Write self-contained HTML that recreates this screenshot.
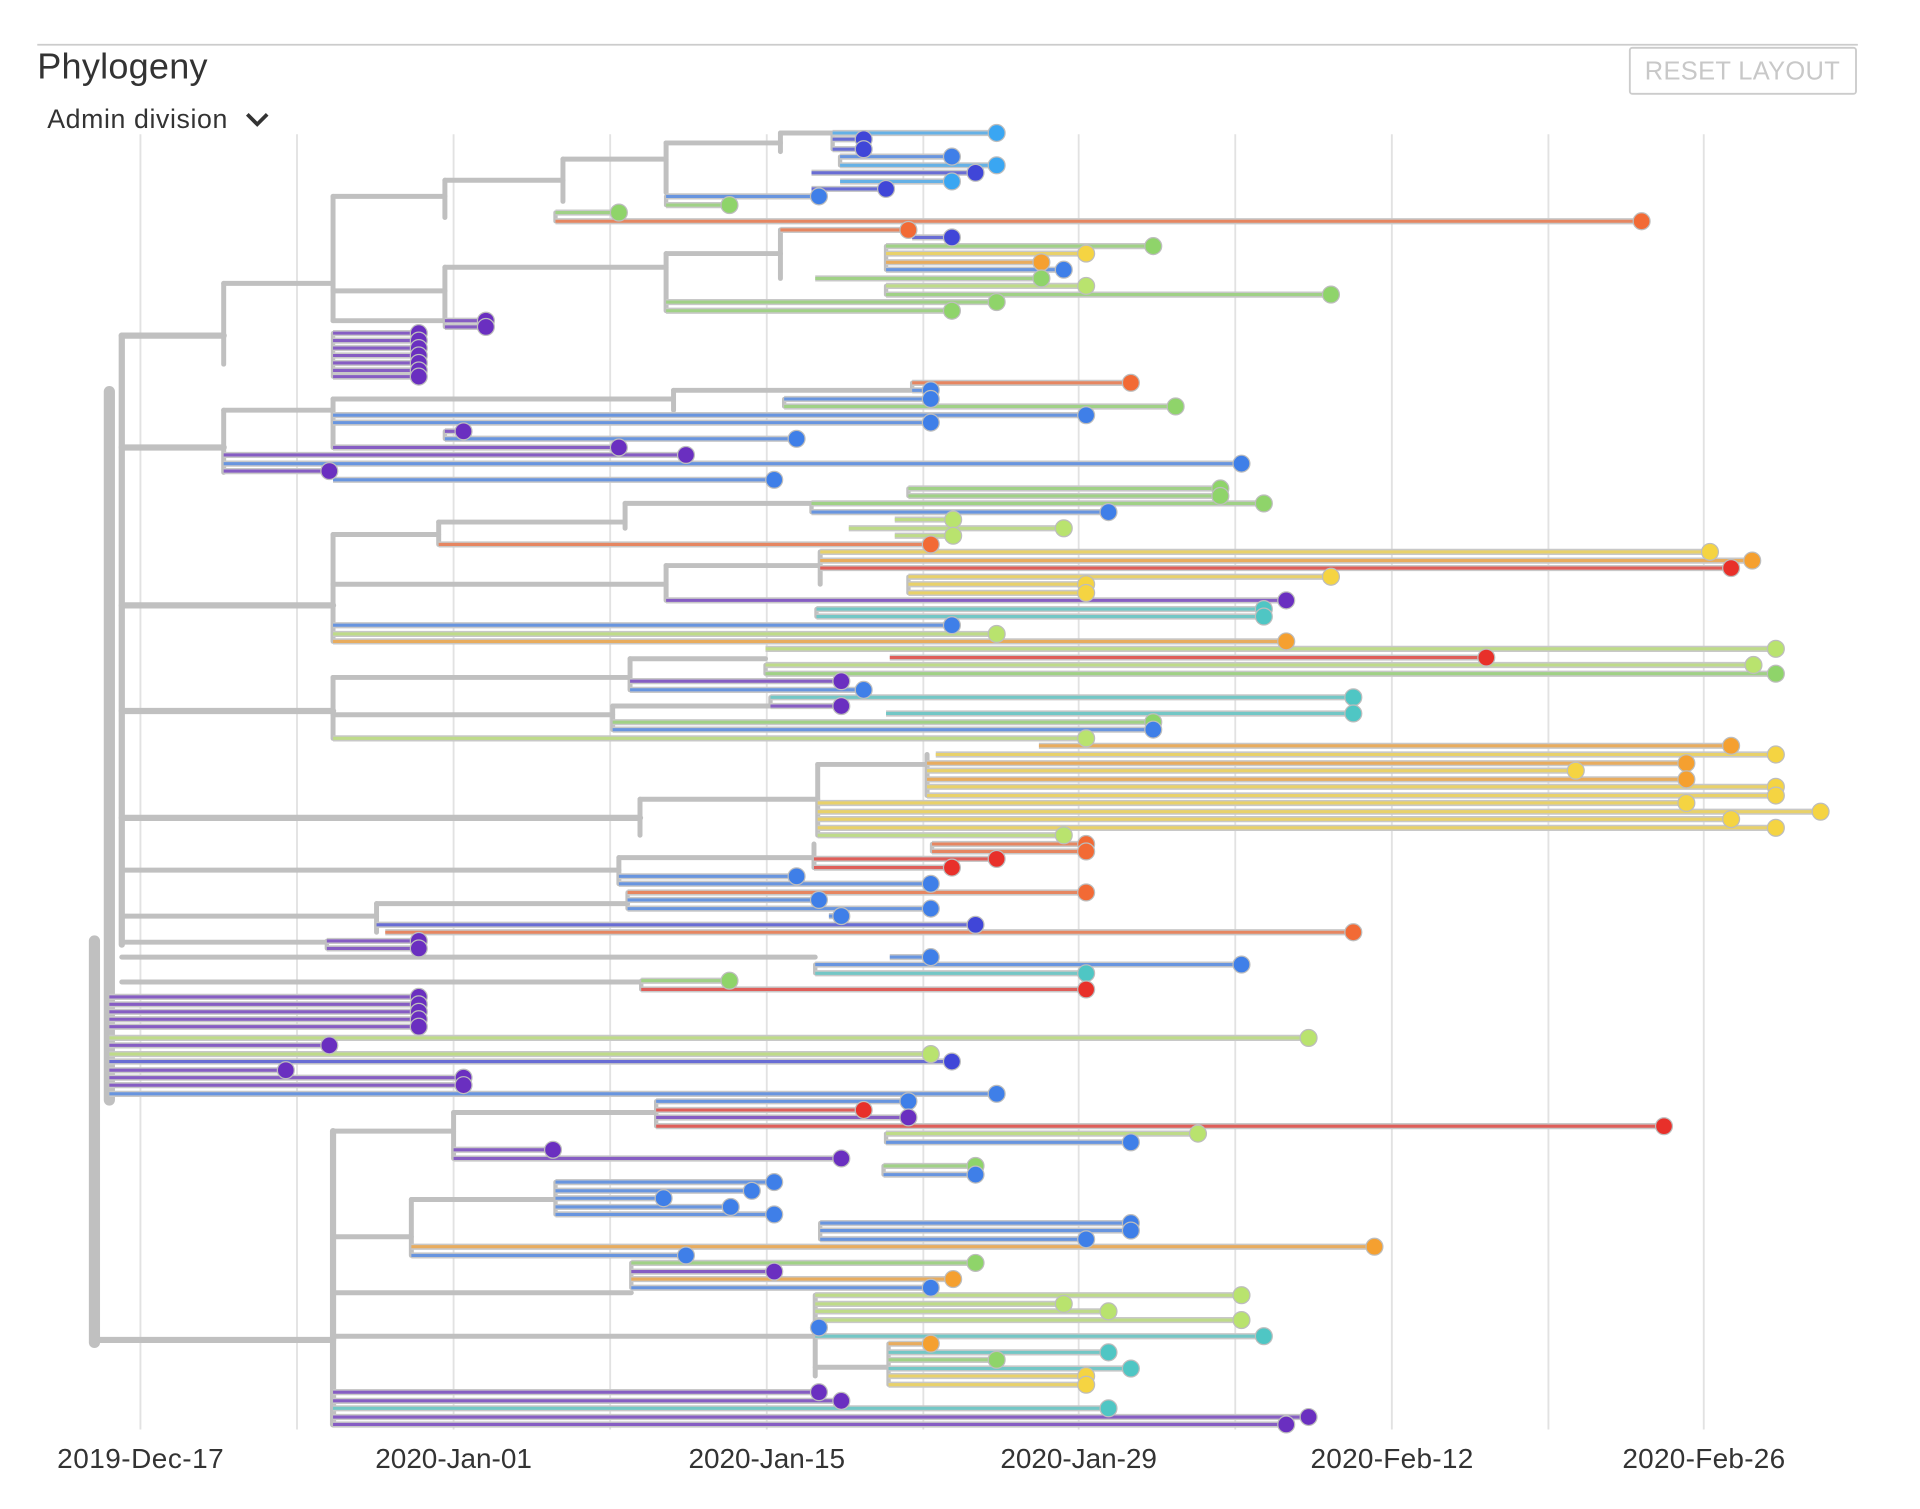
<!DOCTYPE html>
<html><head><meta charset="utf-8"><style>
html,body{margin:0;padding:0;background:#fff;}
svg{display:block}
</style></head><body>
<svg id="s" width="1920" height="1509" viewBox="0 0 1545 1214" preserveAspectRatio="none" xmlns="http://www.w3.org/2000/svg">
<rect width="1545" height="1214" fill="#fff"/>
<line x1="30" y1="36" x2="1495" y2="36" stroke="#ccc" stroke-width="1.5"/>
<text x="30" y="63" font-family="Liberation Sans, sans-serif" font-size="29" fill="#333" textLength="137">Phylogeny</text>
<text x="38" y="103" font-family="Liberation Sans, sans-serif" font-size="21.5" fill="#333" textLength="145">Admin division</text>
<path d="M199 92 L207 100 L215 92" fill="none" stroke="#333" stroke-width="3"/>
<rect x="1311.5" y="38.5" width="182" height="37" fill="#fff" stroke="#ccc" stroke-width="1.5" rx="2"/>
<text x="1402" y="64" text-anchor="middle" font-family="Liberation Sans, sans-serif" font-size="20.5" fill="#c8c8c8" textLength="157">RESET LAYOUT</text>
<g id="grid"></g>
<g id="tree"></g>
<g id="tips"></g>
<g font-family="Liberation Sans, sans-serif" font-size="22.5" fill="#333" text-anchor="middle">
<text x="113" y="1181" textLength="134">2019-Dec-17</text>
<text x="365" y="1181" textLength="126">2020-Jan-01</text>
<text x="617" y="1181" textLength="126">2020-Jan-15</text>
<text x="868" y="1181" textLength="126">2020-Jan-29</text>
<text x="1120" y="1181" textLength="131">2020-Feb-12</text>
<text x="1371" y="1181" textLength="131">2020-Feb-26</text>
</g>
</svg>
<script>
var NS="http://www.w3.org/2000/svg";
function el(p,t,a){var e=document.createElementNS(NS,t);for(var k in a)e.setAttribute(k,a[k]);document.getElementById(p).appendChild(e);return e;}
[113,239,365,491,617,743,868,994,1120,1246,1371].forEach(function(x){el('grid','line',{x1:x,y1:108,x2:x,y2:1150,stroke:'#e2e2e2','stroke-width':1.5});});
var C={b:'#3f7fe8',lb:'#3aa6f2',p:'#6a2fc0',db:'#4046d8',g:'#8fd46a',lg:'#b9e36e',y:'#f5d442',o:'#f5a030',ro:'#f26a35',r:'#e8302a',t:'#4fc6c4'};
var T=[[107,670,802,'lb'],[112,670,695,'db'],[120,670,695,'db'],[126,676,766,'b'],[133,676,802,'lb'],[139,653,785,'db'],[146,676,766,'lb'],[152,653,713,'db'],[158,536,659,'b'],[165,536,587,'g'],[171,447,498,'g'],[178,447,1321,'ro'],
[185,628,731,'ro'],[191,734,766,'db'],[198,713,928,'g'],[204,713,874,'y'],[211,713,838,'o'],[217,713,856,'b'],[224,656,838,'g'],[230,713,874,'lg'],[237,713,1071,'g'],[243,536,802,'g'],[250,536,766,'g'],
[258,358,391,'p'],[263,358,391,'p'],[268,268,337,'p'],[274,268,337,'p'],[280,268,337,'p'],[286,268,337,'p'],[292,268,337,'p'],[298,268,337,'p'],[303,268,337,'p'],
[308,734,910,'ro'],[314,734,749,'b'],[321,631,749,'b'],[327,631,946,'g'],[334,268,874,'b'],[340,268,749,'b'],[347,358,373,'p'],[353,358,641,'b'],[360,268,498,'p'],[366,180,552,'p'],[373,180,999,'b'],[379,180,265,'p'],[386,268,623,'b'],
[393,731,982,'g'],[399,731,982,'g'],[405,653,1017,'g'],[412,653,892,'b'],[418,720,767,'lg'],[425,683,856,'lg'],[431,720,767,'lg'],[438,353,749,'ro'],[444,660,1376,'y'],[451,660,1410,'o'],[457,660,1393,'r'],[464,731,1071,'y'],[470,731,874,'y'],[477,731,874,'y'],[483,536,1035,'p'],[490,657,1017,'t'],[496,657,1017,'t'],[503,268,766,'b'],[510,268,802,'lg'],[516,268,1035,'o'],
[522,616,1429,'lg'],[529,716,1196,'r'],[535,616,1411,'lg'],[542,616,1429,'g'],[548,507,677,'p'],[555,507,695,'b'],[561,620,1089,'t'],[568,620,677,'p'],[574,713,1089,'t'],[581,493,928,'g'],[587,493,928,'b'],[594,268,874,'lg'],
[600,836,1393,'o'],[607,753,1429,'y'],[614,746,1357,'o'],[620,746,1268,'y'],[627,746,1357,'o'],[633,746,1429,'y'],[640,746,1429,'y'],[646,658,1357,'y'],[653,658,1465,'y'],[659,658,1393,'y'],[666,658,1429,'y'],[672,658,856,'lg'],
[679,750,874,'ro'],[685,750,874,'ro'],[691,655,802,'r'],[698,655,766,'r'],[705,498,641,'b'],[711,498,749,'b'],[718,505,874,'ro'],[724,505,659,'b'],[731,505,749,'b'],[737,667,677,'b'],[744,303,785,'db'],[750,310,1089,'ro'],[757,263,337,'p'],[763,263,337,'p'],
[770,716,749,'b'],[776,656,999,'b'],[783,656,874,'t'],[789,516,587,'g'],[796,516,874,'r'],
[802,88,337,'p'],[808,88,337,'p'],[814,88,337,'p'],[820,88,337,'p'],[826,88,337,'p'],[835,88,1053,'lg'],[841,88,265,'p'],[848,88,749,'lg'],[854,88,766,'db'],[861,88,230,'p'],[867,88,373,'p'],[873,88,373,'p'],[880,88,802,'b'],
[886,528,731,'b'],[893,528,695,'r'],[899,528,731,'p'],[906,528,1339,'r'],[912,713,964,'lg'],[919,713,910,'b'],[925,365,445,'p'],[932,365,677,'p'],[938,711,785,'g'],[945,711,785,'b'],
[951,447,623,'b'],[958,447,605,'b'],[964,447,534,'b'],[971,447,588,'b'],[977,447,623,'b'],[984,660,910,'b'],[990,660,910,'b'],[997,660,874,'b'],[1003,331,1106,'o'],[1010,331,552,'b'],
[1016,508,785,'g'],[1023,508,623,'p'],[1029,508,767,'o'],[1036,508,749,'b'],[1042,656,999,'lg'],[1049,656,856,'lg'],[1055,656,892,'lg'],[1062,656,999,'lg'],[1068,656,659,'b'],[1075,656,1017,'t'],
[1081,715,749,'o'],[1088,715,892,'t'],[1094,715,802,'g'],[1101,715,910,'t'],[1107,715,874,'y'],[1114,715,874,'y'],[1120,268,659,'p'],[1127,268,677,'p'],[1133,268,892,'t'],[1140,268,1053,'p'],[1146,268,1035,'p']];
var G='#c0c0c0';
function gl(x1,y1,x2,y2,w){el('tree','line',{x1:x1,y1:y1,x2:x2,y2:y2,stroke:G,'stroke-width':w||3.5,'stroke-linecap':'round'});}
var i=0;while(i<T.length){var j=i;while(j+1<T.length&&T[j+1][1]==T[i][1]&&T[j+1][0]-T[j][0]<12)j++;if(j>i)gl(T[i][1],T[i][0],T[i][1],T[j][0],3.5);i=j+1;}
gl(76,757,76,1080,9);gl(76,1078,268,1078,5);gl(88,315,88,885,9);gl(98,270,98,760,5);
gl(98,270,180,270,5);gl(180,228,180,293,4);gl(180,228,268,228,4);gl(268,158,268,258,4);gl(268,158,358,158,4);gl(358,145,358,175,4);gl(358,145,453,145,4);gl(453,128,453,162,4);gl(453,128,536,128,4);gl(536,115,536,155,4);gl(536,115,628,115,4);gl(628,107,628,122,4);gl(628,107,670,107,4);
gl(268,234,358,234,4);gl(358,215,358,258,4);gl(358,215,536,215,4);gl(536,204,536,250,4);gl(536,204,628,204,4);gl(628,185,628,224,4);gl(628,185,713,185,4);gl(358,258,268,258,4);
gl(98,360,180,360,5);gl(180,330,180,380,4);gl(180,330,268,330,4);gl(268,321,268,360,4);gl(268,321,542,321,4);gl(542,314,542,330,4);gl(542,314,734,314,4);
gl(98,487,268,487,5);gl(268,430,268,516,4);gl(268,430,353,430,4);gl(353,420,353,438,4);gl(353,420,503,420,4);gl(503,405,503,425,4);gl(503,405,653,405,4);gl(268,470,536,470,4);gl(536,455,536,483,4);gl(536,455,660,455,4);gl(660,444,660,470,4);
gl(98,572,268,572,5);gl(268,545,268,594,4);gl(268,545,507,545,4);gl(507,530,507,555,4);gl(507,530,616,530,4);gl(268,575,493,575,4);gl(493,568,493,587,4);gl(493,568,620,568,4);
gl(98,658,515,658,5);gl(515,643,515,672,4);gl(515,643,658,643,4);gl(658,615,658,672,4);gl(658,615,746,615,4);gl(746,607,746,640,4);
gl(98,700,498,700,4);gl(498,690,498,711,4);gl(498,690,655,690,4);gl(655,679,655,698,4);gl(98,737,303,737,4);gl(303,727,303,750,4);gl(303,727,505,727,4);gl(98,758,263,758,4);gl(98,770,656,770,4);gl(98,790,516,790,4);
gl(268,910,268,1146,5);gl(268,910,365,910,4);gl(365,895,365,932,4);gl(365,895,528,895,4);gl(268,995,331,995,4);gl(331,965,331,1010,4);gl(331,965,447,965,4);gl(268,1040,508,1040,4);gl(268,1075,656,1075,4);gl(656,1042,656,1107,4);gl(656,1100,715,1100,4);
T.forEach(function(t){el('tips','line',{x1:t[1],y1:t[0],x2:t[2],y2:t[0],stroke:'#c8c8c8','stroke-width':5});});
T.forEach(function(t){el('tips','line',{x1:t[1],y1:t[0],x2:t[2],y2:t[0],stroke:C[t[3]],'stroke-width':2.5,'stroke-opacity':0.7});});
T.forEach(function(t){el('tips','circle',{cx:t[2],cy:t[0],r:6.8,fill:C[t[3]],stroke:'#bdbdbd','stroke-width':1});});
</script>
</body></html>
